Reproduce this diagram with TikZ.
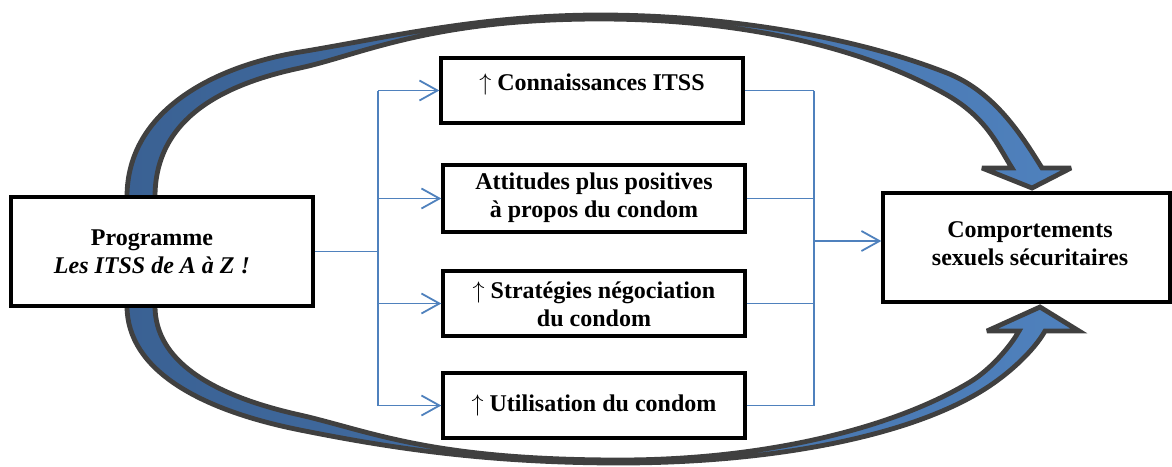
\documentclass[tikz,border=0pt]{standalone}
\usepackage{fontspec}
\setmainfont{Liberation Serif}
\usetikzlibrary{arrows.meta}
\definecolor{linkblue}{HTML}{4F81BD}
\definecolor{flowdark}{HTML}{3A6193}
\definecolor{flowlight}{HTML}{4F81BD}
\definecolor{rimgray}{HTML}{404040}
\begin{document}
\begin{tikzpicture}[x=0.5pt,y=-0.5pt,
  box/.style={draw=black,line width=1.7pt,fill=white,inner sep=0pt},
  boxtext/.style={font=\bfseries\fontsize{12}{14}\selectfont,align=center,inner sep=0pt},
  link/.style={draw=linkblue,line width=0.9pt},
  linkarrow/.style={link,-{Straight Barb[length=9pt,width=10pt,line width=0.9pt]}},
  flow/.style={draw=rimgray,line width=2.4pt,line join=miter,miter limit=4,
    left color=flowdark,right color=flowlight}]
\useasboundingbox (0,0) rectangle (1172,466);

% upper curved arrow: programme -> behaviours
\path[flow] (127,205) -- (127,197)
  .. controls (127,110) and (215,66) .. (300,52)
  .. controls (385,38) and (480,15) .. (600,15)
  .. controls (720,15) and (850,35) .. (947,73)
  .. controls (995,92) and (1022,136) .. (1042,168)
  -- (1071,168) -- (1032,188) -- (982,168) -- (1012,168)
  .. controls (998,146) and (987,118) .. (947,95)
  .. controls (850,40) and (720,19) .. (600,19)
  .. controls (430,19) and (360,55) .. (300,68)
  .. controls (220,85) and (155,120) .. (155,197)
  -- (155,205) -- cycle;

% lower curved arrow: programme -> behaviours
\path[flow] (127,298) -- (127,306)
  .. controls (127,370) and (200,410) .. (300,430)
  .. controls (380,446) and (480,463) .. (620,463)
  .. controls (760,463) and (900,440) .. (980,392)
  .. controls (1010,374) and (1035,349) .. (1045,331)
  -- (1079,331) -- (1040,307) -- (987,331) -- (1019,331)
  .. controls (1010,347) and (990,370) .. (970,382)
  .. controls (890,430) and (760,460) .. (620,460)
  .. controls (430,460) and (370,431) .. (300,415)
  .. controls (210,395) and (155,360) .. (155,306)
  -- (155,298) -- cycle;

% boxes
\node[box,minimum width=151pt,minimum height=54.5pt] (prog) at (162,251.5) {};
\node[box,minimum width=151pt,minimum height=32.5pt] (b1) at (592,90.5) {};
\node[box,minimum width=151pt,minimum height=33.5pt] (b2) at (594,198.5) {};
\node[box,minimum width=151pt,minimum height=32.5pt] (b3) at (594,303.5) {};
\node[box,minimum width=151pt,minimum height=32.5pt] (b4) at (594,405.5) {};
\node[box,minimum width=143.5pt,minimum height=54.5pt] (out) at (1026.5,247.5) {};

% box texts
\node[boxtext] (tprog) at (152,252) {Programme\\\textit{Les ITSS de A à Z !}};
\node[boxtext] (t1) at (592,84) {$\uparrow$ Connaissances ITSS};
\node[boxtext] (t2) at (594,198) {Attitudes plus positives\\à propos du condom};
\node[boxtext] (t3) at (594,304) {$\uparrow$ Stratégies négociation\\du condom};
\node[boxtext] (t4) at (594,405) {$\uparrow$ Utilisation du condom};
\node[boxtext] (tout) at (1030,244) {Comportements\\sexuels sécuritaires};

% fan-out from the programme
\coordinate (jl) at (378,251.5);
\coordinate (jr) at (814,241);
\draw[link] (prog.east) -- (jl);
\draw[link] (jl |- b1.west) -- (jl |- b4.west);
\foreach \b in {b1,b2,b3,b4} {
  \draw[linkarrow] (jl |- \b.west) -- (\b.west);
  \draw[link] (\b.east) -- (jr |- \b.east);
}
% fan-in to the behaviours
\draw[link] (jr |- b1.east) -- (jr |- b4.east);
\draw[linkarrow] (jr) -- (jr -| out.west);
\end{tikzpicture}
\end{document}
